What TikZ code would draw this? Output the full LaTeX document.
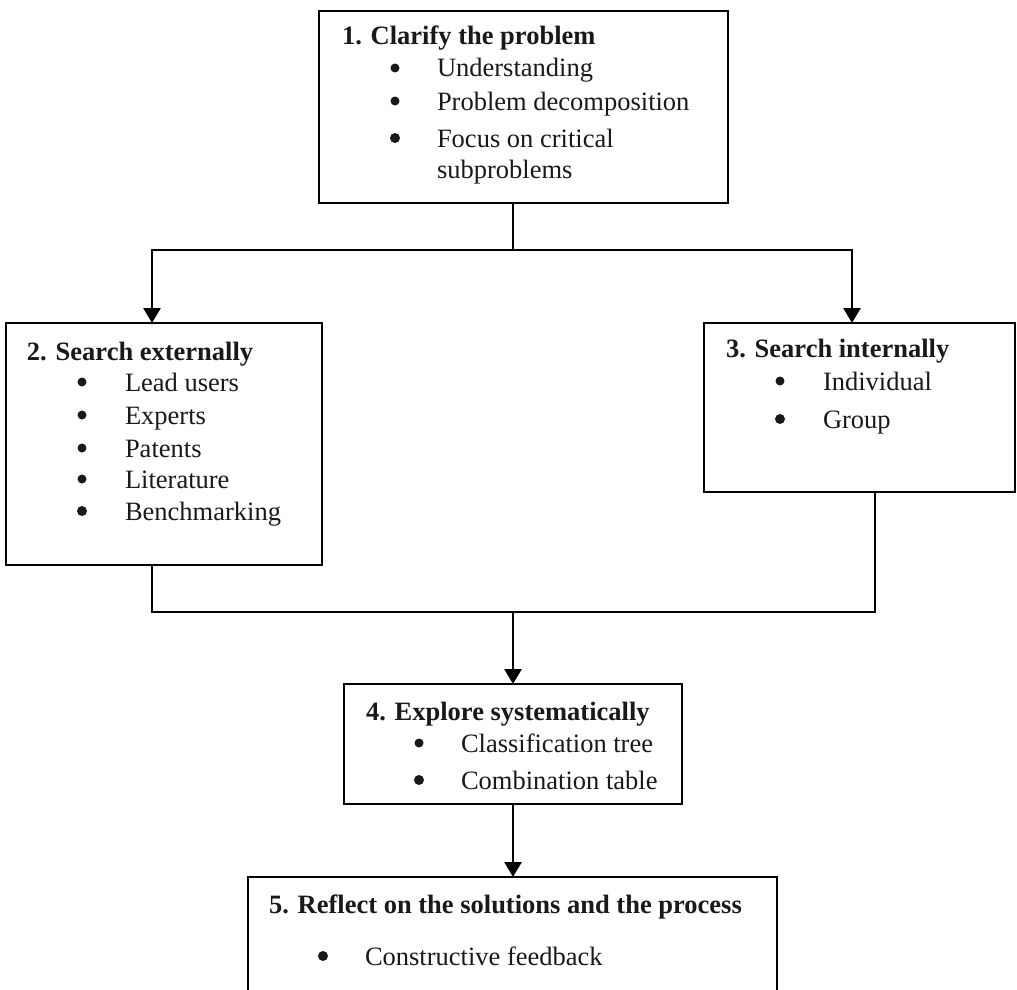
\documentclass[tikz,border=0pt]{standalone}
\usepackage{fontspec}
\setmainfont{Liberation Serif}
\usetikzlibrary{arrows.meta}
\begin{document}
\begin{tikzpicture}[x=1pt,y=-1pt,
  boxstyle/.style={draw=black, line width=2.8pt, inner sep=0pt, outer sep=0pt},
  txt/.style={anchor=base west, inner sep=0pt, outer sep=0pt, text=black!90, font=\fontsize{26.5}{33}\selectfont},
  ttl/.style={anchor=base west, inner sep=0pt, outer sep=0pt, text=black!90, font=\fontsize{26.5}{33}\selectfont\bfseries},
  bul/.style={circle, fill=black!90, inner sep=0pt, outer sep=0pt, minimum size=9pt},
  conn/.style={draw=black, line width=2.8pt},
  arr/.style={conn, -{Triangle[length=15pt,width=17pt]}}]
\useasboundingbox (0,0) rectangle (1017,990);
\fill[white] (0,0) rectangle (1017,990);
\clip (0,0) rectangle (1017,990);

% boxes
\node[boxstyle, minimum width=409pt, minimum height=192pt] (b1) at (523.5,107) {};
\node[boxstyle, minimum width=316pt, minimum height=242pt] (b2) at (164,444) {};
\node[boxstyle, minimum width=311pt, minimum height=169pt] (b3) at (859.5,407.5) {};
\node[boxstyle, minimum width=338pt, minimum height=120pt] (b4) at (513,744) {};
\node[boxstyle, minimum width=529pt, minimum height=133pt] (b5) at (512.5,943.5) {};

% box 1 text
\node[ttl] (t1) at (342,45) {1. Clarify the problem};
\node[bul] (t1b1) at (395,68) {};
\node[txt] (t1i1) at (437,77) {Understanding};
\node[bul] (t1b2) at (395,101) {};
\node[txt] (t1i2) at (437,110) {Problem decomposition};
\node[bul, minimum size=10pt] (t1b3) at (395,138) {};
\node[txt] (t1i3) at (437,147) {Focus on critical};
\node[txt] (t1i4) at (437,178) {subproblems};

% box 2 text
\node[ttl] (t2) at (27,360) {2. Search externally};
\node[bul] (t2b1) at (82,382) {};
\node[txt] (t2i1) at (125,391) {Lead users};
\node[bul] (t2b2) at (82,415) {};
\node[txt] (t2i2) at (125,424) {Experts};
\node[bul] (t2b3) at (82,448) {};
\node[txt] (t2i3) at (125,457) {Patents};
\node[bul] (t2b4) at (82,479) {};
\node[txt] (t2i4) at (125,488) {Literature};
\node[bul, minimum size=10pt] (t2b5) at (82,511) {};
\node[txt] (t2i5) at (125,520) {Benchmarking};

% box 3 text
\node[ttl] (t3) at (726,357) {3. Search internally};
\node[bul] (t3b1) at (780,381) {};
\node[txt] (t3i1) at (823,390) {Individual};
\node[bul, minimum size=10pt] (t3b2) at (780,419) {};
\node[txt] (t3i2) at (823,428) {Group};

% box 4 text
\node[ttl] (t4) at (366,720) {4. Explore systematically};
\node[bul] (t4b1) at (419,743) {};
\node[txt] (t4i1) at (461,752) {Classification tree};
\node[bul, minimum size=10pt] (t4b2) at (419,780) {};
\node[txt] (t4i2) at (461,789) {Combination table};

% box 5 text
\node[ttl] (t5) at (269,913) {5. Reflect on the solutions and the process};
\node[bul, minimum size=10pt] (t5b1) at (323,956) {};
\node[txt] (t5i1) at (365,965) {Constructive feedback};

% connectors
\coordinate (j1) at (513,250);
\coordinate (l1) at (152,250);
\coordinate (r1) at (852,250);
\coordinate (j2) at (513,612);
\coordinate (l2) at (152,612);
\coordinate (r2) at (875,612);

\draw[conn] (j1 |- b1.south) -- (j1);
\draw[conn, line cap=rect] (l1) -- (r1);
\draw[arr] (l1) -- (l1 |- b2.north);
\draw[arr] (r1) -- (r1 |- b3.north);
\draw[conn, line join=miter] (l2 |- b2.south) -- (l2) -- (r2) -- (r2 |- b3.south);
\draw[arr] (j2) -- (j2 |- b4.north);
\draw[arr] (j2 |- b4.south) -- (j2 |- b5.north);
\end{tikzpicture}
\end{document}
